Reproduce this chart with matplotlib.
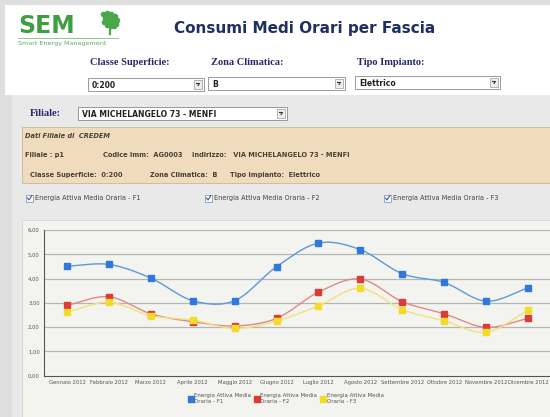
import numpy as np
import matplotlib.pyplot as plt
import matplotlib.patches as patches

mesi = ['Gennaio 2012', 'Febbraio 2012', 'Marzo 2012', 'Aprile 2012', 'Maggio 2012',
        'Giugno 2012', 'Luglio 2012', 'Agosto 2012', 'Settembre 2012', 'Ottobre 2012',
        'Novembre 2012', 'Dicembre 2012']
f1 = [4.51, 4.58, 4.02, 3.09, 3.09, 4.49, 5.46, 5.19, 4.20, 3.84, 3.07, 3.61]
f2 = [2.90, 3.25, 2.55, 2.22, 2.05, 2.36, 3.44, 3.98, 3.05, 2.55, 1.99, 2.36]
f3 = [2.62, 3.02, 2.47, 2.29, 1.95, 2.25, 2.88, 3.60, 2.72, 2.26, 1.79, 2.69]
serie = ['Energia Attiva Media\nOraria - F1', 'Energia Attiva Media\nOraria - F2',
         'Energia Attiva Media\nOraria - F3']
yticks = [0, 1, 2, 3, 4, 5, 6]

W, H = 550, 417
fig = plt.figure(figsize=(W / 100, H / 100), dpi=100)
bg = fig.add_axes([0, 0, 1, 1])
bg.set_xlim(0, W)
bg.set_ylim(H, 0)
bg.axis('off')

navy = '#1f2f5f'
lab = '#27276b'


def rect(x, y, w, h, fc, ec='none', lw=0.6):
    bg.add_patch(patches.Rectangle((x, y), w, h, fc=fc, ec=ec, lw=lw))


def dropdown(x, y, w, h, text):
    rect(x, y, w, h, 'white', '#8a8a8a')
    rect(x + w - 10, y + 2, 8, h - 4, '#eeeeee', '#9a9a9a', 0.5)
    bg.plot([x + w - 7.5, x + w - 4.5, x + w - 6], [y + h / 2 - 1, y + h / 2 - 1, y + h / 2 + 1],
            color='#333333', lw=0.8)
    bg.text(x + 4, y + h / 2 + 0.5, text, fontsize=5.5, fontweight='bold', color='#222222',
            va='center', ha='left')


def checkbox(x, y, text):
    rect(x, y - 3.5, 7, 7, 'white', '#7f9db9', 0.6)
    bg.plot([x + 1.5, x + 3, x + 5.8], [y, y + 2, y - 2.5], color='#3a5a9a', lw=0.8)
    bg.text(x + 9, y, text, fontsize=4.7, color='#444444', va='center', ha='left')


# sfondo
rect(0, 0, W, H, '#dedede')
rect(5, 5, W, 90, 'white')
rect(12, 95, W, H, '#e9e9e9')

# logo
bg.text(18, 26, 'SEM', fontsize=17, fontweight='bold', color='#3f9e3f', va='center', ha='left')
bg.plot([18, 118], [38, 38], color='#7cbf7c', lw=0.6)
bg.text(18, 43, 'Smart Energy Management', fontsize=4.6, color='#5faa5f', va='center', ha='left')
tx = np.array([103, 107, 111, 115, 105, 109, 113, 117, 104, 108, 112, 116, 107, 111, 114])
ty = np.array([14, 13, 14, 16, 18, 17, 18, 20, 22, 21, 22, 24, 25, 26, 26])
bg.scatter(tx, ty, s=9, color='#4aa84a', zorder=3)
bg.plot([110, 110], [24, 34], color='#4aa84a', lw=1.6)

bg.text(305, 28, 'Consumi Medi Orari per Fascia', fontsize=11, fontweight='bold',
        color=navy, va='center', ha='center')

# filtri
for x, t in [(90, 'Classe Superficie:'), (211, 'Zona Climatica:'), (357, 'Tipo Impianto:')]:
    bg.text(x, 62, t, fontsize=7.5, fontweight='bold', family='Liberation Serif', color=lab,
            va='center', ha='left')
dropdown(88, 78, 116, 13, '0:200')
dropdown(208, 77, 137, 13, 'B')
dropdown(355, 76, 145, 13, 'Elettrico')

# filiale
bg.text(30, 113, 'Filiale:', fontsize=7.5, fontweight='bold', family='Liberation Serif',
        color=lab, va='center', ha='left')
dropdown(78, 107, 209, 13, 'VIA MICHELANGELO 73 - MENFI')

# dati filiale
rect(22, 127, 540, 56, '#f0dbbd', '#c8b89e')
brown = '#4a4035'
bg.text(25, 136, 'Dati Filiale di  CREDEM', fontsize=4.8, fontweight='bold', style='italic',
        color=brown, va='center', ha='left')
for x, y, t in [(25, 155, 'Filiale : p1'), (103, 155, 'Codice Imm:  AG0003'),
                (192, 155, 'Indirizzo:   VIA MICHELANGELO 73 - MENFI'),
                (30, 175, 'Classe Superficie:  0:200'), (150, 175, 'Zona Climatica:  B'),
                (230, 175, 'Tipo Impianto:  Elettrico')]:
    bg.text(x, y, t, fontsize=4.8, fontweight='bold', color=brown, va='center', ha='left')

checkbox(26, 198, 'Energia Attiva Media Oraria - F1')
checkbox(205, 198, 'Energia Attiva Media Oraria - F2')
checkbox(384, 198, 'Energia Attiva Media Oraria - F3')

# pannello grafico
rect(22, 220, 540, 210, '#f3f3f0', '#d4d4d4')

ax = fig.add_axes([44 / W, 1 - 375.7 / H, (551 - 44) / W, (375.7 - 230) / H])
ax.set_facecolor('none')
x = np.arange(len(mesi))
ax.set_xlim(-0.55, len(mesi) - 0.45)
ax.set_ylim(0, 6)


def curva(v, n=30):
    # Catmull-Rom tra i punti
    p = np.array(v, dtype=float)
    ext = np.concatenate([[2 * p[0] - p[1]], p, [2 * p[-1] - p[-2]]])
    xs, ys = [], []
    t = np.linspace(0, 1, n)
    for i in range(len(p) - 1):
        p0, p1, p2, p3 = ext[i:i + 4]
        m1 = (p2 - p0) / 2
        m2 = (p3 - p1) / 2
        h00 = 2 * t**3 - 3 * t**2 + 1
        h10 = t**3 - 2 * t**2 + t
        h01 = -2 * t**3 + 3 * t**2
        h11 = t**3 - t**2
        xs.append(i + t)
        ys.append(h00 * p1 + h10 * m1 + h01 * p2 + h11 * m2)
    return np.concatenate(xs), np.concatenate(ys)


stili = [(f1, '#5b9ad6', '#2f78dc'), (f2, '#e08a86', '#dd3b35'), (f3, '#f2e27a', '#f2dc2a')]
for i, (v, lc, mc) in enumerate(stili):
    cx, cy = curva(v)
    ax.plot(cx, cy, color=lc, lw=1.0, zorder=2 + i)
for i, (v, lc, mc) in enumerate(stili):
    ax.plot(x, v, ls='none', marker='s', ms=5, color=mc, mec=mc, zorder=6 + i, label=serie[i])

for yy in yticks[1:]:
    ax.axhline(yy, color='#b5b5b5', lw=0.9, zorder=1)
ax.set_yticks(yticks)
ax.yaxis.set_major_formatter(plt.FuncFormatter(lambda v, p: ('%.2f' % v).replace('.', ',')))
ax.set_xticks(x)
ax.set_xticklabels(mesi)
ax.tick_params(axis='both', length=0, labelsize=3.8, colors='#555555', pad=3)
for s in ['top', 'right']:
    ax.spines[s].set_visible(False)
ax.spines['left'].set_color('#555555')
ax.spines['bottom'].set_color('#555555')
ax.spines['left'].set_linewidth(0.8)
ax.spines['bottom'].set_linewidth(0.8)

ax.legend(loc='upper center', bbox_to_anchor=(0.478, -0.085), ncol=3, frameon=False,
          fontsize=4, handlelength=0.6, handletextpad=0.3, columnspacing=0.8, markerscale=0.8,
          labelcolor='#555555')

fig.savefig('out.png', dpi=100)
